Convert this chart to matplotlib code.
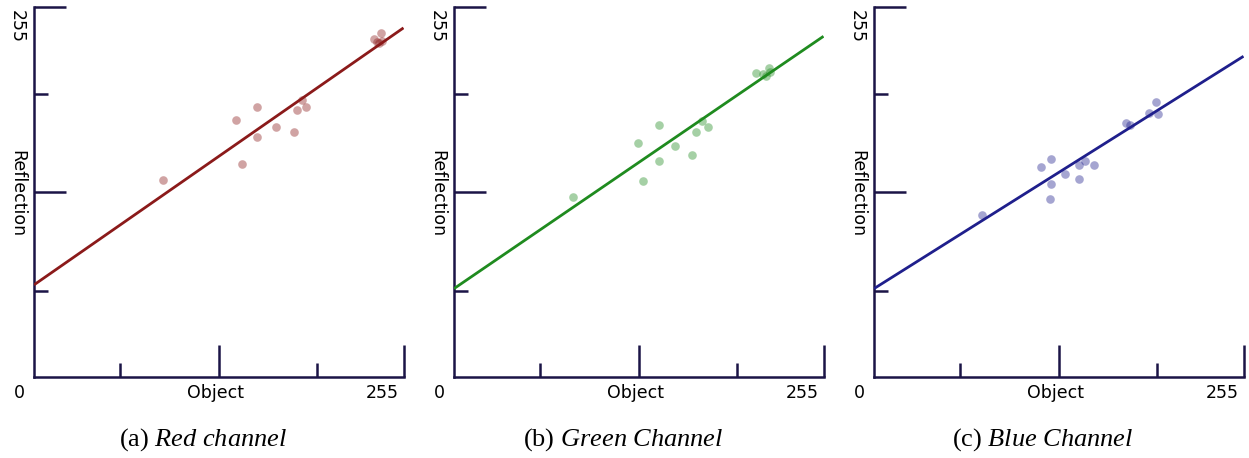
import numpy as np
import matplotlib
matplotlib.use("Agg")
import matplotlib.pyplot as plt

plt.rcParams['font.family'] = 'DejaVu Sans'
plt.rcParams['mathtext.fontset'] = 'custom'
plt.rcParams['mathtext.rm'] = 'Liberation Serif'
plt.rcParams['mathtext.it'] = 'Liberation Serif:italic'

# data (0..255 on both axes)
red_x = [88.7, 139.1, 154.1, 143.3, 154.1, 167.2, 179.2, 181.3, 187.5, 185.2, 234.8, 239.6, 236.8, 240.5, 238.4]
red_y = [135.9, 177.2, 186.2, 147.0, 165.2, 172.1, 169.1, 184.1, 186.2, 191.2, 233.4, 237.3, 231.3, 231.8, 230.6]

green_x = [81.8, 127.2, 141.2, 130.1, 141.2, 152.3, 164.3, 167.2, 175.3, 171.4, 208.5, 213.1, 217.7, 218.4, 215.0]
green_y = [124.0, 161.0, 173.9, 135.0, 148.9, 159.0, 153.0, 169.1, 172.1, 176.2, 209.4, 209.0, 213.1, 210.6, 207.8]

blue_x = [74.2, 115.4, 122.3, 131.5, 122.3, 121.2, 141.5, 145.6, 151.6, 141.5, 173.7, 176.9, 190.1, 194.9, 195.8]
blue_y = [111.7, 145.1, 150.0, 139.9, 133.0, 122.8, 145.8, 148.9, 145.8, 136.8, 175.1, 173.9, 182.2, 189.4, 181.1]

# fitted lines: value at object=0 and slope
fit_intercept = [63.4, 60.8, 60.8]
fit_slope = [0.6957, 0.6831, 0.629]

captions = [r"(a) $\mathit{Red\ channel}$",
            r"(b) $\mathit{Green\ Channel}$",
            r"(c) $\mathit{Blue\ Channel}$"]
line_colors = ['#8b1a1a', '#1f8b1f', '#1f1f8c']

short_ticks = [59.4, 195.4]
long_ticks = [127.8, 255]

axis_col = '#1b1446'

W, H = 1249, 458
fig = plt.figure(figsize=(W / 100, H / 100), dpi=100)

xs = [red_x, green_x, blue_x]
ys = [red_y, green_y, blue_y]

for i in range(3):
    off = 420 * i
    ax = fig.add_axes([(34 + off) / W, (H - 376.7) / H, 369.5 / W, 369.4 / H])
    ax.set_xlim(0, 255)
    ax.set_ylim(0, 255)
    ax.set_facecolor('none')

    ax.plot(xs[i], ys[i], 'o', color=line_colors[i], alpha=0.4,
            markersize=6.2, markeredgewidth=0, zorder=2)
    gx = np.array([0, 255])
    ax.plot(gx, fit_intercept[i] + fit_slope[i] * gx, color=line_colors[i],
            lw=2.0, zorder=3, solid_capstyle='butt')

    for s in ['top', 'right']:
        ax.spines[s].set_visible(False)
    for s in ['left', 'bottom']:
        ax.spines[s].set_color(axis_col)
        ax.spines[s].set_linewidth(1.8)

    ax.set_xticks(short_ticks)
    ax.set_yticks(short_ticks)
    ax.set_xticks(long_ticks, minor=True)
    ax.set_yticks(long_ticks, minor=True)
    ax.tick_params(which='major', direction='in', length=10.2, width=1.8,
                   color=axis_col, labelbottom=False, labelleft=False)
    ax.tick_params(which='minor', direction='in', length=23.3, width=1.8,
                   color=axis_col, labelbottom=False, labelleft=False)

    # axis texts
    fig.text((19 + off) / W, 1 - 392.5 / H, "0", ha='center', va='center', fontsize=12.5)
    fig.text((215 + off) / W, 1 - 392.5 / H, "Object", ha='center', va='center', fontsize=12.5)
    fig.text((382 + off) / W, 1 - 392.5 / H, "255", ha='center', va='center', fontsize=12.5)
    fig.text((17 + off) / W, 1 - 26.7 / H, "255", ha='center', va='center',
             rotation=270, fontsize=12.5)
    fig.text((17 + off) / W, 1 - 194 / H, "Reflection", ha='center', va='center',
             rotation=270, fontsize=12.5)

    fig.text((203 + off) / W, 1 - 440 / H, captions[i], ha='center', va='center',
             fontsize=19, family='Liberation Serif')

fig.savefig("out.png", dpi=100)
